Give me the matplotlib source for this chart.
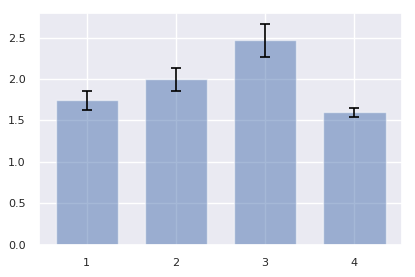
import matplotlib
matplotlib.use("Agg")
import matplotlib.pyplot as plt
import seaborn as sns
import numpy as np

sns.set_theme(style="darkgrid")

groups = [1, 2, 3, 4]
means = [1.743, 1.995, 2.465, 1.6]
errs = [0.115, 0.142, 0.198, 0.056]

fig, ax = plt.subplots(figsize=(4.15, 2.77), dpi=100)
ax.bar(groups, means, width=0.7, yerr=errs, capsize=3.6, alpha=0.5,
       color='#4C72B0', error_kw={'ecolor': 'black', 'elinewidth': 1.2, 'capthick': 1.2})
ax.set_xticks(groups)
ax.tick_params(labelsize=8)
fig.subplots_adjust(left=0.094, right=0.969, top=0.953, bottom=0.116)
plt.savefig('out.png', dpi=100)
